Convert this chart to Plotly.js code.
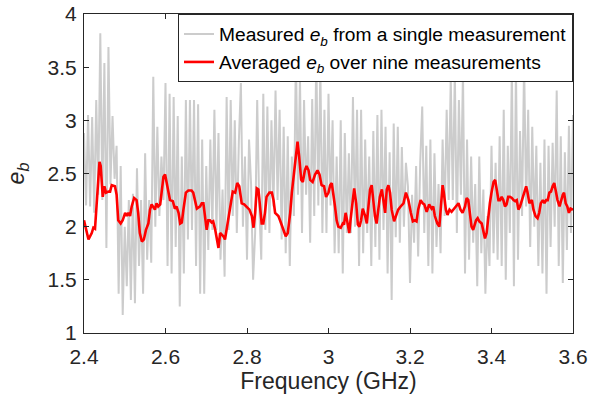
<!DOCTYPE html>
<html>
<head>
<meta charset="utf-8">
<script src="https://cdn.plot.ly/plotly-3.0.1.min.js"></script>
<style>html,body{margin:0;padding:0;background:#fff;}#chart{width:604px;height:401px;}</style>
</head>
<body>
<div id="chart"></div>
<script>
// Single-measurement e_b on a uniform frequency grid (GHz)
const grayStart = 2.4;
const grayStep = 0.005;
const singleEb = [
2.88,2.20,3.05,2.19,3.03,2.13,3.19,2.30,3.82,2.25,
3.54,1.80,3.69,2.40,3.04,2.45,2.76,1.37,2.57,1.17,
2.00,1.44,2.25,1.31,2.31,1.28,2.55,1.63,2.25,1.37,
2.69,1.69,2.25,1.66,3.41,2.00,2.94,2.10,2.66,2.25,
3.35,1.63,3.25,1.56,3.22,1.81,3.04,1.25,2.66,1.56,
3.19,1.88,3.19,1.97,3.19,1.63,3.15,1.37,2.82,1.37,
2.57,1.78,2.82,1.97,3.10,1.97,2.88,1.69,2.35,1.53,
3.22,1.97,3.19,2.10,3.00,1.94,2.80,
3.35,2.00,2.66,1.69,2.82,2.40,1.50,1.94,3.19,2.20,
1.69,3.25,1.97,3.13,1.94,3.00,2.19,3.28,2.25,3.10,
1.88,2.94,1.75,2.85,1.63,2.66,2.10,3.60,2.30,3.40,
1.94,3.19,2.30,2.85,1.85,3.20,2.10,3.60,2.20,3.50,
1.94,3.10,1.94,3.25,2.20,3.00,1.75,2.66,1.75,3.00,
1.56,2.88,1.94,2.69,1.94,3.22,2.00,3.10,1.63,3.10,
1.75,2.82,1.94,2.66,1.63,2.90,1.81,3.05,1.69,3.10,
1.97,2.94,1.56,2.70,
1.31,2.97,1.90,2.94,1.85,2.75,2.00,2.60,2.38,1.47,
2.30,1.85,2.57,1.72,2.60,3.13,1.94,2.76,1.63,2.82,
1.56,2.69,1.81,2.40,1.75,2.82,2.10,3.10,2.25,3.40,
2.25,3.45,1.94,3.19,2.30,3.45,1.56,2.82,1.69,2.66,
1.85,2.40,1.44,2.66,1.75,2.35,1.37,2.10,1.63,2.76,
1.75,2.60,1.69,2.85,1.63,3.10,1.50,2.76,1.94,3.50,
1.44,3.50,1.69,2.90,2.10,3.55,2.19,3.10,1.81,2.94,
2.00,2.76,1.63,2.60,1.56,2.82,1.37,2.76,1.81,2.79,
2.00,3.28,1.63,2.85,1.47,2.70,1.78,2.95,1.94,3.05
];
const singleFreq = singleEb.map((_, i) => +(grayStart + i * grayStep).toFixed(4));

// Averaged e_b over nine measurements
const avgFreq = [
2.400,2.411,2.419,2.423,2.427,2.431,2.438,2.441,2.446,2.450,2.454,2.460,2.464,2.468,2.476,2.480,2.484,2.490,2.495,2.501,
2.505,2.509,2.513,2.517,2.523,2.529,2.533,2.537,2.542,2.547,2.552,2.558,2.562,2.566,2.570,2.574,2.578,2.582,2.587,2.591,
2.595,2.599,2.603,2.607,2.611,2.618,2.623,2.627,2.632,2.636,2.640,2.644,2.650,2.656,2.664,2.668,2.672,2.677,2.685,2.689,
2.693,2.697,2.701,2.705,2.709,2.713,2.717,2.722,2.726,2.730,
2.734,2.742,2.746,2.750,2.758,2.765,2.771,2.776,2.781,2.787,2.793,2.799,2.806,2.812,2.816,2.820,2.824,2.828,2.832,2.836,
2.840,2.844,2.848,2.855,2.861,2.865,2.869,2.877,2.881,2.889,2.895,2.900,2.906,2.910,2.914,2.918,2.924,2.928,2.933,2.937,
2.942,2.946,2.951,2.955,2.961,2.967,2.973,2.978,2.983,2.989,2.994,3.000,3.004,3.008,3.012,3.016,3.020,3.024,3.030,3.035,
3.038,3.042,3.046,3.051,3.054,3.059,3.063,3.068,3.072,3.076,3.080,3.084,3.090,3.094,3.098,3.102,3.106,3.110,3.114,3.118,
3.122,3.126,3.131,3.135,3.139,3.143,3.147,3.151,3.155,
3.161,3.166,3.171,3.177,3.184,3.190,3.196,3.202,3.207,3.212,3.216,3.220,3.226,3.231,3.235,3.241,3.247,3.253,3.257,3.261,
3.267,3.272,3.275,3.280,3.283,3.288,3.292,3.297,3.302,3.306,3.313,3.319,3.324,3.329,3.335,3.339,3.343,3.347,3.351,3.355,
3.362,3.366,3.370,3.376,3.380,3.384,3.388,3.392,3.396,3.400,3.405,3.409,3.413,3.417,3.421,3.425,3.429,3.433,3.437,3.441,
3.445,3.450,3.454,3.458,3.462,3.466,3.470,3.476,3.481,3.485,3.488,3.493,3.499,3.503,3.508,3.513,3.517,3.521,3.526,3.530,
3.534,3.538,3.542,3.546,3.550,3.554,3.558,3.562,3.567,3.571,3.575,3.578,3.582,3.586,3.590,3.594,3.600
];
const avgEb = [
2.06,1.88,1.94,1.99,1.98,2.19,2.61,2.57,2.28,2.38,2.32,2.33,2.33,2.39,2.38,2.30,2.06,2.03,2.06,2.13,
2.10,2.13,2.10,2.19,2.27,2.25,2.13,1.94,1.86,1.88,1.97,2.03,2.16,2.21,2.19,2.16,2.22,2.19,2.21,2.33,
2.47,2.49,2.42,2.33,2.25,2.24,2.17,2.19,2.13,2.03,2.04,2.16,2.32,2.34,2.34,2.32,2.24,2.17,2.19,2.22,
2.22,2.10,1.97,2.06,2.06,2.04,2.05,1.97,1.88,1.80,
1.94,1.91,1.88,1.97,2.19,2.33,2.32,2.41,2.38,2.22,2.21,2.19,2.16,2.10,1.99,2.13,2.36,2.35,2.19,2.03,
2.03,2.13,2.28,2.32,2.32,2.25,2.13,2.10,2.06,1.97,1.91,1.94,2.13,2.32,2.47,2.63,2.80,2.66,2.44,2.42,
2.53,2.57,2.53,2.44,2.42,2.49,2.53,2.49,2.39,2.38,2.28,2.32,2.39,2.41,2.32,2.19,2.06,2.00,1.99,2.03,
2.02,2.13,2.05,1.94,2.06,2.25,2.36,2.22,2.02,2.00,2.06,2.17,2.10,2.03,2.19,2.35,2.39,2.25,2.10,2.03,
2.16,2.28,2.35,2.25,2.13,2.35,2.39,2.32,2.16,
2.05,2.10,2.16,2.19,2.22,2.32,2.25,2.13,2.05,2.06,2.05,2.16,2.25,2.22,2.21,2.14,2.21,2.17,2.19,2.10,
2.03,2.00,2.13,2.39,2.32,2.16,2.11,2.16,2.14,2.16,2.19,2.22,2.16,2.13,2.19,2.27,2.25,2.10,2.00,1.97,
2.06,2.08,2.05,2.03,1.97,1.89,1.94,2.10,2.22,2.32,2.42,2.44,2.35,2.25,2.25,2.28,2.25,2.19,2.21,2.28,
2.28,2.27,2.25,2.24,2.25,2.16,2.19,2.27,2.35,2.38,2.33,2.22,2.25,2.16,2.10,2.08,2.13,2.22,2.25,2.22,
2.25,2.25,2.32,2.33,2.38,2.41,2.33,2.25,2.19,2.25,2.30,2.32,2.22,2.19,2.13,2.17,2.16
];

const xTickVals = [2.4, 2.6, 2.8, 3.0, 3.2, 3.4, 3.6];
const xTickText = ['2.4', '2.6', '2.8', '3', '3.2', '3.4', '3.6'];
const yTickVals = [1, 1.5, 2, 2.5, 3, 3.5, 4];
const yTickText = ['1', '1.5', '2', '2.5', '3', '3.5', '4'];

const seriesNames = [
  'Measured <i>e<sub>b</sub></i> from a single measurement',
  'Averaged <i>e<sub>b</sub></i> over nine measurements'
];

const FONT = 'Liberation Sans, Arial, sans-serif';
const INK = '#262626';

const traces = [
  {x: singleFreq, y: singleEb, type: 'scatter', mode: 'lines', name: seriesNames[0],
   line: {color: '#cccccc', width: 2}},
  {x: avgFreq, y: avgEb, type: 'scatter', mode: 'lines', name: seriesNames[1],
   line: {color: '#ff0000', width: 2.6}}
];

const axisCommon = {
  showline: true, linecolor: INK, linewidth: 1, mirror: 'ticks',
  ticks: 'inside', ticklen: 5, tickwidth: 1, tickcolor: INK,
  showgrid: false, zeroline: false, tickmode: 'array',
  tickfont: {family: FONT, size: 21, color: INK}
};

const layout = {
  width: 604, height: 401,
  margin: {l: 84, r: 31, t: 14, b: 68},
  paper_bgcolor: '#ffffff', plot_bgcolor: '#ffffff',
  showlegend: true,
  xaxis: Object.assign({}, axisCommon, {
    range: [2.4, 3.6], tickvals: xTickVals, ticktext: xTickText,
    ticklabelstandoff: 5,
    title: {text: 'Frequency (GHz)', font: {family: FONT, size: 23, color: INK}, standoff: 4}
  }),
  yaxis: Object.assign({}, axisCommon, {
    range: [1, 4], tickvals: yTickVals, ticktext: yTickText,
    ticklabelstandoff: 2,
    title: {text: '<i>e<sub>b</sub></i>', font: {family: FONT, size: 23, color: INK}, standoff: 16}
  }),
  legend: {
    x: 1, xanchor: 'right', y: 1, yanchor: 'top',
    bgcolor: '#ffffff', bordercolor: INK, borderwidth: 1,
    font: {family: FONT, size: 19.2, color: '#000000'},
    traceorder: 'normal'
  }
};

Plotly.newPlot('chart', traces, layout, {displayModeBar: false, staticPlot: true});
</script>
</body>
</html>
